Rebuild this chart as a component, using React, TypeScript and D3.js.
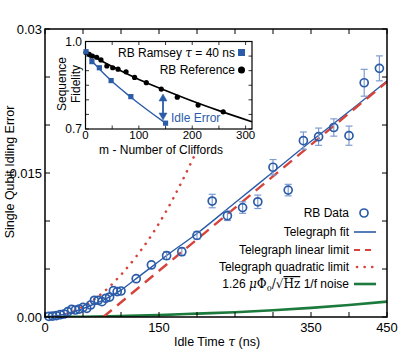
import React from 'react'
import * as d3 from 'd3'

// main panel: RB idling error vs idle time
const idleTimes = [5, 10, 15, 20, 25, 30, 35, 40, 45, 50, 55, 60, 65, 70, 75, 80, 85, 90, 95, 100,
  120, 140, 160, 180, 200, 220, 240, 260, 280, 300, 320, 340, 360, 380, 400, 420, 440]
const idleErr = [0.00007, 0.0001, 0.00014, 0.00024, 0.00031, 0.00055, 0.0008, 0.00073, 0.00083, 0.001,
  0.0009, 0.00125, 0.00174, 0.00174, 0.0016, 0.00195, 0.00208, 0.00274, 0.00264, 0.00271,
  0.00399, 0.00542, 0.00639, 0.0068, 0.0085, 0.01208, 0.01055, 0.0114, 0.012, 0.0156,
  0.01322, 0.01837, 0.01878, 0.01974, 0.01889, 0.0244, 0.0259]
const idleErrBar = [0.00003, 0.00003, 0.00003, 0.00004, 0.00004, 0.00005, 0.00005, 0.00005, 0.00006, 0.00006,
  0.00006, 0.00007, 0.00008, 0.00008, 0.00008, 0.00009, 0.0001, 0.0001, 0.0001, 0.00011,
  0.0002, 0.0003, 0.0004, 0.0004, 0.0004, 0.0007, 0.0005, 0.0006, 0.0007, 0.0008,
  0.0006, 0.0009, 0.0009, 0.0009, 0.001, 0.0014, 0.0013]

const fitT = [0, 20, 40, 60, 80, 100, 120, 140, 160, 200, 250, 300, 350, 400, 450]
const fitErr = [0, 0.0002, 0.0006, 0.0012, 0.0019, 0.0028, 0.004, 0.0052, 0.0064, 0.0087, 0.0119, 0.0151, 0.0183, 0.0214, 0.0246]

const linT = [76.7, 450]
const linErr = [0, 0.0245]

const quadT = [0, 20, 40, 60, 80, 100, 120, 140, 160, 180, 196]
const quadErr = [0, 0.00017, 0.0007, 0.00157, 0.0028, 0.0044, 0.0063, 0.0085, 0.0111, 0.0141, 0.0167]

const noiseT = [0, 50, 100, 150, 200, 250, 300, 350, 400, 450]
const noiseErr = [0, 0.00003, 0.0001, 0.0002, 0.00035, 0.0005, 0.0007, 0.00095, 0.00125, 0.0016]

const xTickLabels = [0, 150, 350, 450]
const yTickLabels = ['0.00', '0.015', '0.03']

// inset: sequence fidelity vs number of Cliffords
const refM = [1, 7, 13, 21, 29, 40, 51, 61, 76, 92, 114, 142, 172, 211, 258]
const refF = [0.962, 0.956, 0.95, 0.946, 0.937, 0.916, 0.91, 0.905, 0.896, 0.877, 0.859, 0.837, 0.809, 0.782, 0.759]
const refFitM = [0, 50, 100, 150, 200, 250, 312]
const refFitF = [0.963, 0.914, 0.87, 0.832, 0.796, 0.763, 0.725]

const ramM = [1, 12, 26, 48, 85, 150]
const ramF = [0.965, 0.931, 0.91, 0.866, 0.811, 0.72]
const ramFitM = [0, 12, 26, 48, 85, 150]
const ramFitF = [0.968, 0.934, 0.906, 0.866, 0.809, 0.72]

const insetXLabels = [0, 100, 200, 300]

const BLUE = '#2c5ca8'
const BAR = '#7f9ccf'
const RED = '#d5433b'
const GREEN = '#1c7a3c'
const FONT = 'Liberation Sans, Arial, sans-serif'

export default function App() {
  const x = d3.scaleLinear().domain([0, 450]).range([45, 387])
  const y = d3.scaleLinear().domain([0, 0.03]).range([317, 29])
  const ix = d3.scaleLinear().domain([0, 312]).range([85.5, 252])
  const iy = d3.scaleLinear().domain([0.7, 1.0]).range([129, 41.5])

  const line = (ts: number[], vs: number[], curve = d3.curveMonotoneX) =>
    d3.line<number>().x((d) => x(d)).y((_, i) => y(vs[i])).curve(curve)(ts) || ''
  const iline = (ms: number[], fs: number[]) =>
    d3.line<number>().x((d) => ix(d)).y((_, i) => iy(fs[i])).curve(d3.curveMonotoneX)(ms) || ''

  const xTicks = d3.range(0, 451, 50)
  const yTicks = d3.range(0, 0.0301, 0.005)
  const ixTicks = d3.range(0, 301, 50)
  const iyTicks = d3.range(0.7, 1.001, 0.05)

  const legendRows = [
    { label: 'RB Data', y: 213 },
    { label: 'Telegraph fit', y: 232 },
    { label: 'Telegraph linear limit', y: 250 },
    { label: 'Telegraph quadratic limit', y: 267 },
    { label: 'noise', y: 284 },
  ]

  return (
    <svg width={399} height={349} style={{ position: 'absolute', left: 0, top: 0, background: '#fff' }}
      fontFamily={FONT}>
      <defs>
        <clipPath id="plotClip">
          <rect x={45} y={29} width={342} height={288} />
        </clipPath>
      </defs>

      {/* curves */}
      <g clipPath="url(#plotClip)">
        <path d={line(noiseT, noiseErr)} fill="none" stroke={GREEN} strokeWidth={2.6} />
        <path d={line(fitT, fitErr)} fill="none" stroke={BLUE} strokeWidth={1.4} />
        <path d={line(linT, linErr, d3.curveLinear)} fill="none" stroke={RED} strokeWidth={2.4}
          strokeDasharray="11 7" />
        <path d={line(quadT, quadErr)} fill="none" stroke={RED} strokeWidth={2.6}
          strokeDasharray="0.1 7.5" strokeLinecap="round" />
      </g>

      {/* data */}
      {idleTimes.map((t, i) => {
        const cx = x(t)
        const cy = y(idleErr[i])
        const lo = y(idleErr[i] - idleErrBar[i])
        const hi = y(idleErr[i] + idleErrBar[i])
        return (
          <g key={t}>
            {lo - hi > 6 && (
              <g stroke={BAR} strokeWidth={1.2}>
                <line x1={cx} x2={cx} y1={lo} y2={hi} />
                <line x1={cx - 3.5} x2={cx + 3.5} y1={lo} y2={lo} />
                <line x1={cx - 3.5} x2={cx + 3.5} y1={hi} y2={hi} />
              </g>
            )}
            <circle cx={cx} cy={cy} r={4} fill="none" stroke={BLUE} strokeWidth={1.7} />
          </g>
        )
      })}

      {/* main axes */}
      <rect x={45} y={29} width={342} height={288} fill="none" stroke="#000" strokeWidth={1.5} />
      {xTicks.map((t) => (
        <g key={'xt' + t} stroke="#000" strokeWidth={1}>
          <line x1={x(t)} x2={x(t)} y1={317} y2={312} />
          <line x1={x(t)} x2={x(t)} y1={29} y2={34} />
        </g>
      ))}
      {yTicks.map((v) => (
        <g key={'yt' + v} stroke="#000" strokeWidth={1}>
          <line x1={45} x2={50} y1={y(v)} y2={y(v)} />
          <line x1={387} x2={382} y1={y(v)} y2={y(v)} />
        </g>
      ))}
      {xTickLabels.map((t) => (
        <text key={'xl' + t} x={x(t)} y={332} fontSize={13} textAnchor="middle">{t}</text>
      ))}
      {yTickLabels.map((s) => (
        <text key={'yl' + s} x={42} y={y(+s) + 4.5} fontSize={13} textAnchor="end">{s}</text>
      ))}
      <text x={217} y={346} fontSize={12.5} textAnchor="middle">
        Idle Time <tspan fontFamily="DejaVu Serif, serif" fontStyle="italic">τ</tspan> (ns)
      </text>
      <text transform="translate(14,172) rotate(-90)" fontSize={12.5} textAnchor="middle">
        Single Qubit Idling Error
      </text>

      {/* legend */}
      {legendRows.map((r) => (
        r.label === 'noise' ? (
          <text key="noise" x={349} y={r.y + 4} fontSize={12} textAnchor="end">
            1.26 <tspan fontFamily="DejaVu Serif, serif" fontStyle="italic">μ</tspan>
            <tspan fontFamily="DejaVu Serif, serif">Φ</tspan>
            <tspan fontFamily="DejaVu Serif, serif" fontSize={8} dy={3}>0</tspan>
            <tspan dy={-3} fontFamily="DejaVu Serif, serif">/√</tspan>
            <tspan fontFamily="DejaVu Serif, serif" textDecoration="overline">Hz</tspan> 1/f noise
          </text>
        ) : (
          <text key={r.label} x={349} y={r.y + 4} fontSize={12} textAnchor="end">{r.label}</text>
        )
      ))}
      <circle cx={364} cy={213} r={4} fill="none" stroke={BLUE} strokeWidth={1.7} />
      <line x1={354} x2={376} y1={232} y2={232} stroke={BLUE} strokeWidth={1.6} />
      <line x1={354} x2={376} y1={250} y2={250} stroke={RED} strokeWidth={2.2} strokeDasharray="6 5" />
      <line x1={357} x2={376} y1={267} y2={267} stroke={RED} strokeWidth={2.6} strokeDasharray="0.1 7.5"
        strokeLinecap="round" />
      <line x1={354} x2={376} y1={284} y2={284} stroke={GREEN} strokeWidth={2.6} />

      {/* inset */}
      <rect x={85.5} y={41.5} width={166.5} height={87.5} fill="#fff" stroke="#000" strokeWidth={1.2} />
      {ixTicks.map((m) => (
        <g key={'ixt' + m} stroke="#000" strokeWidth={0.8}>
          <line x1={ix(m)} x2={ix(m)} y1={129} y2={125.5} />
          <line x1={ix(m)} x2={ix(m)} y1={41.5} y2={45} />
        </g>
      ))}
      {iyTicks.map((f) => (
        <g key={'iyt' + f} stroke="#000" strokeWidth={0.8}>
          <line x1={85.5} x2={89} y1={iy(f)} y2={iy(f)} />
          <line x1={252} x2={248.5} y1={iy(f)} y2={iy(f)} />
        </g>
      ))}
      {insetXLabels.map((m) => (
        <text key={'ixl' + m} x={ix(m)} y={139} fontSize={11.5} textAnchor="middle">{m}</text>
      ))}
      <text x={82} y={iy(1.0) + 4} fontSize={12} textAnchor="end">1.0</text>
      <text x={82} y={iy(0.7) + 4} fontSize={12} textAnchor="end">0.7</text>
      <text x={161} y={154} fontSize={12} textAnchor="middle">m - Number of Cliffords</text>
      <text transform="translate(66,84) rotate(-90)" fontSize={12} textAnchor="middle">Sequence</text>
      <text transform="translate(80,84) rotate(-90)" fontSize={12} textAnchor="middle">Fidelity</text>

      <path d={iline(refFitM, refFitF)} fill="none" stroke="#000" strokeWidth={1.6} />
      <path d={iline(ramFitM, ramFitF)} fill="none" stroke={BLUE} strokeWidth={1.4} />
      {refM.map((m, i) => (
        <circle key={'r' + m} cx={ix(m)} cy={iy(refF[i])} r={2.6} fill="#000" />
      ))}
      {ramM.map((m, i) => (
        <rect key={'q' + m} x={ix(m) - 2.6} y={iy(ramF[i]) - 2.6} width={5.2} height={5.2} fill={BLUE} />
      ))}

      <text x={235} y={57} fontSize={12} textAnchor="end">
        RB Ramsey <tspan fontFamily="DejaVu Serif, serif" fontStyle="italic">τ</tspan> = 40 ns
      </text>
      <rect x={238} y={49} width={7} height={7} fill={BLUE} />
      <text x={235} y={74} fontSize={12} textAnchor="end">RB Reference</text>
      <circle cx={241.5} cy={70} r={3.5} fill="#000" />

      {/* idle error arrow */}
      <g stroke={BLUE} fill={BLUE}>
        <line x1={163} x2={163} y1={99} y2={115} strokeWidth={1.8} />
        <path d="M159,101 L163,94 L167,101 Z" strokeWidth={0.5} />
        <path d="M159,113 L163,120 L167,113 Z" strokeWidth={0.5} />
      </g>
      <text x={171} y={122} fontSize={12} fill={BLUE}>Idle Error</text>
    </svg>
  )
}
